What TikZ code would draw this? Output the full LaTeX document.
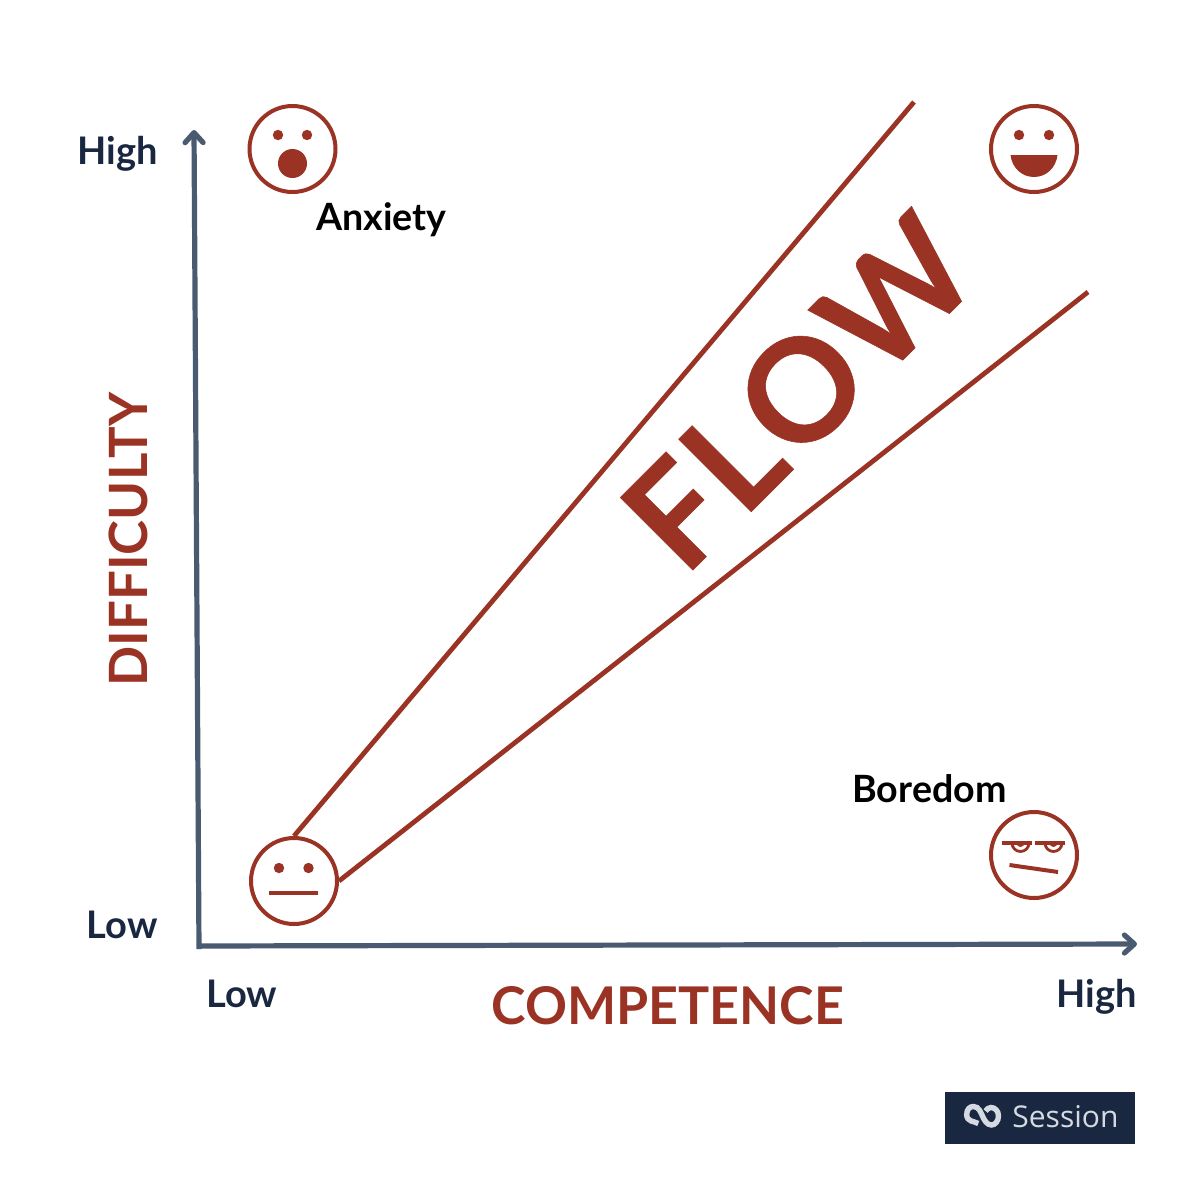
\documentclass[tikz,border=0pt]{standalone}
\usepackage{fontspec}
\setmainfont{Lato}
\newfontfamily\sessionfont{Open Sans}
\newfontfamily\flowfont[BoldFont=*,FakeBold=0.4,Kerning=Off,LetterSpace=1.5]{Lato Bold}
\usetikzlibrary{arrows.meta}
\definecolor{rust}{HTML}{9A3324}
\definecolor{slateaxis}{HTML}{4A5A70}
\definecolor{navy}{HTML}{1A2740}
\definecolor{badgetext}{HTML}{D5DAE2}
\tikzset{
  x=0.5pt,y=-0.5pt,
  facebox/.style={circle,draw=rust,line width=2pt,minimum size=43pt,inner sep=0pt,fill=white},
  rustline/.style={draw=rust,line width=2.4pt},
  axisline/.style={draw=slateaxis,line width=2.6pt,-{Straight Barb[length=5pt,width=9pt,line width=2.6pt,round]}},
  featureline/.style={draw=rust,line width=2pt},
  eyering/.style={draw=rust,line width=1.4pt},
  logoline/.style={draw=badgetext,line width=2.7pt},
  tick/.style={font=\fontsize{19}{22}\selectfont\bfseries,text=navy,inner sep=0pt},
  zone/.style={font=\fontsize{18.8}{22}\selectfont\bfseries,text=black,inner sep=0pt},
  axistitle/.style={font=\fontsize{26}{30}\selectfont\bfseries,text=rust,inner sep=0pt},
}
\begin{document}
\begin{tikzpicture}
\useasboundingbox (0,0) rectangle (1200,1200);
% axes
\coordinate (ybase) at (199,949);
\coordinate (xbase) at (197,946);
\coordinate (ytip) at (194,130);
\coordinate (xtip) at (1137,944);
\draw[axisline] (ybase) -- (ytip);
\draw[axisline] (xbase) -- (xtip);
% flow lines
\coordinate (upperend) at (914,102);
\coordinate (lowerend) at (1088,292);
\node[facebox] (neutral) at (294,881) {};
\draw[rustline] (neutral.north) -- (upperend);
\draw[rustline] (neutral.east) -- (lowerend);
% faces
\node[facebox] (anx) at (292.5,149) {};
\fill[rust] (278,135) circle (5.2) (307,135) circle (5.2) (292.5,163.5) circle (14.5);
\node[facebox] (happy) at (1034,149) {};
\fill[rust] (1019,135) circle (5.2) (1049,135) circle (5.2);
\fill[rust] (1010.5,155) -- (1057.5,155) .. controls (1056,168) and (1046,177) .. (1034,177) .. controls (1022,177) and (1012,168) .. (1010.5,155) -- cycle;
\node[facebox] (bored) at (1034,855) {};
\fill[rust] (279,868) circle (5.2) (308.5,868) circle (5.2);
\draw[featureline] (269,893) -- (318,893);
\draw[featureline] (1002,842.5) -- (1032,842.5);
\draw[featureline] (1035,842.5) -- (1065,842.5);
\draw[eyering] (1012,843) arc[start angle=180,delta angle=-180,radius=8.5];
\draw[eyering] (1045,843) arc[start angle=180,delta angle=-180,radius=8.5];
\fill[rust] (1016.5,843) arc[start angle=180,delta angle=-180,radius=4];
\fill[rust] (1049.5,843) arc[start angle=180,delta angle=-180,radius=4];
\draw[featureline] (1009.5,865) -- (1058,872);
% texts
\node[tick,anchor=base east] (yhigh) at (158,164) {High};
\node[tick,anchor=base east] (ylow) at (158,938) {Low};
\node[tick,anchor=base west] (xlow) at (206,1007) {Low};
\node[tick,anchor=base east] (xhigh) at (1137,1007) {High};
\node[zone,anchor=base west] (anxiety) at (316,230) {Anxiety};
\node[zone,anchor=base west] (boredom) at (852,802) {Boredom};
\node[axistitle,anchor=base] (comp) at (668,1024) {COMPETENCE};
\node[font=\fontsize{26.4}{30}\selectfont\bfseries,text=rust,inner sep=0pt,anchor=base,rotate=90] (diff) at (147,539.5) {DIFFICULTY};
\node[font=\flowfont\fontsize{71}{76}\selectfont,text=rust,rotate=45,inner sep=0pt,anchor=base west] (flow) at (684.5,578.5) {FLOW};
% badge
\node[fill=navy,minimum width=95pt,minimum height=26pt,inner sep=0pt] (badge) at (1040,1118) {};
\node[font=\sessionfont\fontsize{15}{17}\selectfont,text=badgetext,anchor=base west,inner sep=0pt] (sess) at (1012,1127) {Session};
\draw[logoline] (978.3,1123.5) .. controls (974,1121) and (966.7,1122) .. (966.7,1114.5) .. controls (966.7,1109) and (970,1106.5) .. (973.5,1106.5) .. controls (979,1106.5) and (981,1113) .. (982.3,1115.7) .. controls (984,1120) and (987,1125) .. (991.5,1125) .. controls (995,1125) and (998.5,1121) .. (998.5,1116) .. controls (998.5,1111) and (995,1107.5) .. (991,1107.5) .. controls (988.5,1107.5) and (987,1109) .. (985.5,1111);
\end{tikzpicture}
\end{document}
